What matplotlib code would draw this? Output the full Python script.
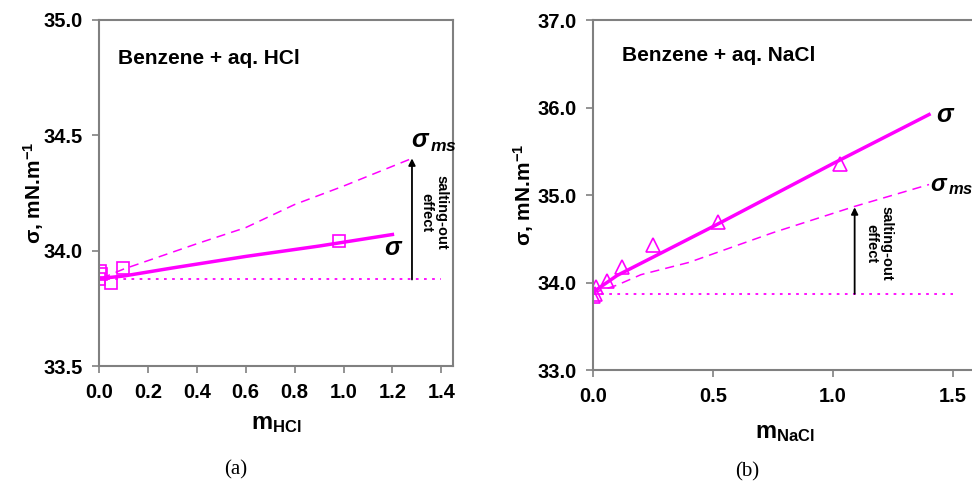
import matplotlib
matplotlib.use("Agg")
import matplotlib.pyplot as plt

plt.rcParams['font.family'] = ['Liberation Sans', 'DejaVu Sans']
plt.rcParams['mathtext.fontset'] = 'custom'
plt.rcParams['mathtext.rm'] = 'Liberation Sans'
plt.rcParams['mathtext.bf'] = 'Liberation Sans:bold'
plt.rcParams['mathtext.it'] = 'Liberation Sans:italic:bold'

MAGENTA = '#ff00ff'
GRAY = '#808080'

# Benzene + aq. HCl
hcl_m = [0.0, 0.005, 0.01, 0.05, 0.1, 0.98]
hcl_sigma = [33.875, 33.91, 33.90, 33.86, 33.925, 34.043]
hcl_fit_m = [0.01, 0.1, 0.3, 0.6, 0.9, 1.2]
hcl_fit_sigma = [33.88, 33.89, 33.925, 33.975, 34.02, 34.07]
hcl_ms_m = [0.01, 0.1, 0.4, 0.6, 0.8, 1.0, 1.28]
hcl_ms_sigma = [33.88, 33.92, 34.03, 34.10, 34.20, 34.28, 34.40]
hcl_sigma0 = 33.875

# Benzene + aq. NaCl
nacl_m = [0.0, 0.01, 0.013, 0.058, 0.12, 0.25, 0.52, 1.03]
nacl_sigma = [33.85, 33.87, 33.95, 34.02, 34.18, 34.43, 34.69, 35.36]
nacl_fit_m = [0.0, 0.1, 0.5, 1.0, 1.4]
nacl_fit_sigma = [33.89, 34.08, 34.64, 35.36, 35.92]
nacl_ms_m = [0.0, 0.1, 0.2, 0.4, 0.75, 1.09, 1.4]
nacl_ms_sigma = [33.88, 33.97, 34.09, 34.23, 34.57, 34.87, 35.12]
nacl_sigma0 = 33.87


def style_axes(ax):
    for s in ax.spines.values():
        s.set_color(GRAY)
        s.set_linewidth(1.5)
    ax.tick_params(direction='out', length=5, width=1.2, color=GRAY,
                   labelsize=14.5, pad=7)
    for lab in ax.get_xticklabels() + ax.get_yticklabels():
        lab.set_fontweight('bold')


fig = plt.figure(figsize=(9.72, 4.84), dpi=100)

# ---- panel (a) ----
ax1 = fig.add_axes([0.1019, 0.2438, 0.3642, 0.7149])
ax1.plot(hcl_fit_m, hcl_fit_sigma, color=MAGENTA, lw=2.5)
ax1.plot(hcl_ms_m, hcl_ms_sigma, color=MAGENTA, lw=1.1, dashes=(6, 4))
ax1.plot([0, 1.4], [hcl_sigma0, hcl_sigma0], color=MAGENTA, lw=1.3, dashes=(1.5, 3))
ax1.plot(hcl_m, hcl_sigma, 's', mfc='none', mec=MAGENTA, ms=8, mew=1.2)
ax1.annotate('', xy=(hcl_ms_m[-1], hcl_ms_sigma[-1]), xytext=(hcl_ms_m[-1], hcl_sigma0),
             arrowprops=dict(arrowstyle='-|>', color='black', lw=1.3, mutation_scale=10,
                             shrinkA=0, shrinkB=0))
ax1.text(1.37, 34.165, 'salting-out\neffect', rotation=-90, ha='center', va='center',
         fontsize=10.5, fontweight='bold', linespacing=1.1)
ax1.text(1.275, 34.47, r'$\sigma_{\,ms}$', fontsize=18, ha='left', va='center')
ax1.text(1.165, 34.01, r'$\sigma$', fontsize=18, ha='left', va='center')
ax1.text(0.078, 34.835, 'Benzene + aq. HCl', fontsize=15, fontweight='bold', ha='left', va='center')
ax1.set_xlim(0, 1.448)
ax1.set_ylim(33.5, 35.0)
ax1.set_xticks([0.0, 0.2, 0.4, 0.6, 0.8, 1.0, 1.2, 1.4])
ax1.set_xticklabels([f'{v:.1f}' for v in ax1.get_xticks()])
ax1.set_yticks([33.5, 34.0, 34.5, 35.0])
ax1.set_yticklabels([f'{v:.1f}' for v in ax1.get_yticks()])
ax1.set_xlabel(r'$\mathbf{m}_{\mathbf{HCl}}$', fontsize=17, labelpad=8)
ax1.set_ylabel(r'σ, mN.m$^{\mathbf{-1}}$', fontsize=15, fontweight='bold', labelpad=-2)
style_axes(ax1)
fig.text(236 / 972, 1 - 470 / 484, '(a)', family='Liberation Serif', fontsize=15,
         ha='center', va='center')

# ---- panel (b) ----
ax2 = fig.add_axes([0.6101, 0.2355, 0.3951, 0.7231])
ax2.plot(nacl_fit_m, nacl_fit_sigma, color=MAGENTA, lw=2.5)
ax2.plot(nacl_ms_m, nacl_ms_sigma, color=MAGENTA, lw=1.1, dashes=(6, 4))
ax2.plot([0, 1.5], [nacl_sigma0, nacl_sigma0], color=MAGENTA, lw=1.3, dashes=(1.5, 3))
ax2.plot(nacl_m, nacl_sigma, '^', mfc='none', mec=MAGENTA, ms=9.5, mew=1.2)
ax2.annotate('', xy=(1.09, 34.86), xytext=(1.09, nacl_sigma0),
             arrowprops=dict(arrowstyle='-|>', color='black', lw=1.3, mutation_scale=10,
                             shrinkA=0, shrinkB=0))
ax2.text(1.19, 34.45, 'salting-out\neffect', rotation=-90, ha='center', va='center',
         fontsize=10.5, fontweight='bold', linespacing=1.1)
ax2.text(1.405, 35.1, r'$\sigma_{\,ms}$', fontsize=17, ha='left', va='center')
ax2.text(1.43, 35.92, r'$\sigma$', fontsize=18, ha='left', va='center')
ax2.text(0.12, 36.6, 'Benzene + aq. NaCl', fontsize=15, fontweight='bold', ha='left', va='center')
ax2.set_xlim(0, 1.6)
ax2.set_ylim(33.0, 37.0)
ax2.set_xticks([0.0, 0.5, 1.0, 1.5])
ax2.set_xticklabels([f'{v:.1f}' for v in ax2.get_xticks()])
ax2.set_yticks([33.0, 34.0, 35.0, 36.0, 37.0])
ax2.set_yticklabels([f'{v:.1f}' for v in ax2.get_yticks()])
ax2.set_xlabel(r'$\mathbf{m}_{\mathbf{NaCl}}$', fontsize=17, labelpad=12)
ax2.set_ylabel(r'σ, mN.m$^{\mathbf{-1}}$', fontsize=15, fontweight='bold', labelpad=1)
style_axes(ax2)
fig.text(747 / 972, 1 - 472 / 484, '(b)', family='Liberation Serif', fontsize=15,
         ha='center', va='center')

fig.savefig('out.png', dpi=100)
